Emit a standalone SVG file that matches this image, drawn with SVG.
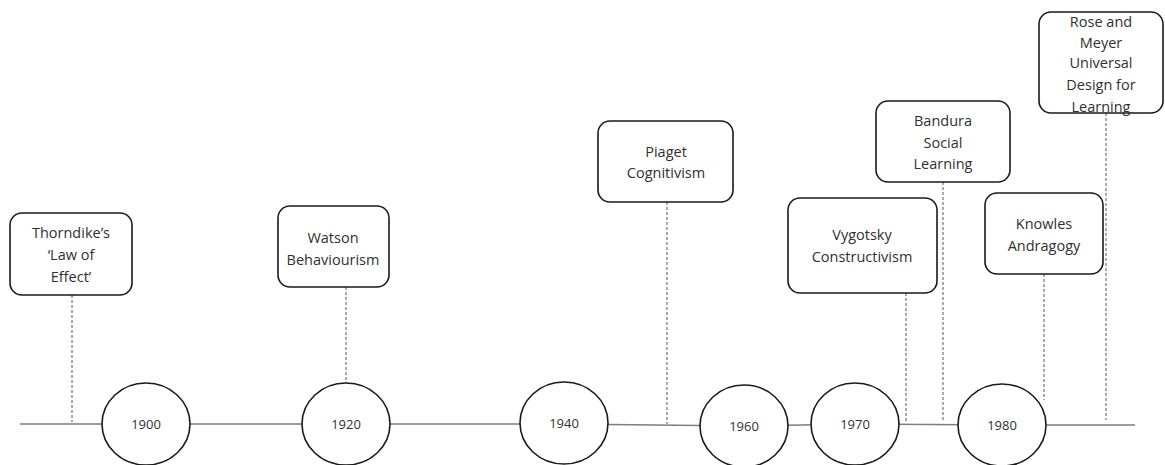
<svg xmlns="http://www.w3.org/2000/svg" width="1165" height="465" viewBox="0 0 1165 465">
  <style>
    .box { fill: #ffffff; stroke: #1a1a1a; stroke-width: 1.6; }
    .year { fill: #ffffff; stroke: #1a1a1a; stroke-width: 1.6; }
    .axis { stroke: #7f7f7f; stroke-width: 1.5; fill: none; }
    .lead { stroke: #555555; stroke-width: 1; stroke-dasharray: 3 2; fill: none; }
    .label { font-family: "Open Sans", "Liberation Sans", sans-serif; font-size: 14.5px; fill: #303030; text-anchor: middle; }
    .yr { font-family: "Open Sans", "Liberation Sans", sans-serif; font-size: 13px; fill: #303030; text-anchor: middle; }
  </style>
  <rect width="1165" height="465" fill="#ffffff"/>

  <!-- timeline axis and dashed leaders -->
  <g id="connectors">
    <polyline class="axis" points="20,424 564,424 744,426 855,424 1002,425 1135,425"/>
    <line class="lead" x1="72" y1="295" x2="72" y2="422"/>
    <line class="lead" x1="346" y1="287" x2="346" y2="383"/>
    <line class="lead" x1="667" y1="202" x2="667" y2="424"/>
    <line class="lead" x1="906" y1="293" x2="906" y2="422"/>
    <line class="lead" x1="943" y1="182" x2="943" y2="421"/>
    <line class="lead" x1="1044" y1="274" x2="1044" y2="400"/>
    <line class="lead" x1="1106" y1="113" x2="1106" y2="420"/>
  </g>

  <!-- year markers -->
  <g id="y1900"><ellipse class="year" cx="146" cy="424" rx="44" ry="41"/><text class="yr" x="146" y="429">1900</text></g>
  <g id="y1920"><ellipse class="year" cx="346" cy="424" rx="44" ry="41"/><text class="yr" x="346" y="429">1920</text></g>
  <g id="y1940"><ellipse class="year" cx="564" cy="423" rx="44" ry="41"/><text class="yr" x="564" y="428">1940</text></g>
  <g id="y1960"><ellipse class="year" cx="744" cy="426" rx="44" ry="41"/><text class="yr" x="744" y="431">1960</text></g>
  <g id="y1970"><ellipse class="year" cx="855" cy="424" rx="44" ry="41"/><text class="yr" x="855" y="429">1970</text></g>
  <g id="y1980"><ellipse class="year" cx="1002" cy="425" rx="44" ry="41"/><text class="yr" x="1002" y="430">1980</text></g>

  <!-- theory boxes -->
  <g id="thorndike">
    <rect class="box" x="10" y="213" width="122" height="82" rx="12"/>
    <text class="label" x="71" y="238">Thorndike’s</text>
    <text class="label" x="71" y="260">‘Law of</text>
    <text class="label" x="71" y="282">Effect’</text>
  </g>
  <g id="watson">
    <rect class="box" x="278" y="206" width="111" height="81" rx="12"/>
    <text class="label" x="333" y="243">Watson</text>
    <text class="label" x="333" y="265">Behaviourism</text>
  </g>
  <g id="piaget">
    <rect class="box" x="598" y="121" width="135" height="81" rx="12"/>
    <text class="label" x="666" y="157">Piaget</text>
    <text class="label" x="666" y="178">Cognitivism</text>
  </g>
  <g id="vygotsky">
    <rect class="box" x="788" y="198" width="149" height="95" rx="12"/>
    <text class="label" x="862" y="240">Vygotsky</text>
    <text class="label" x="862" y="262">Constructivism</text>
  </g>
  <g id="bandura">
    <rect class="box" x="876" y="101" width="134" height="81" rx="12"/>
    <text class="label" x="943" y="126">Bandura</text>
    <text class="label" x="943" y="148">Social</text>
    <text class="label" x="943" y="169">Learning</text>
  </g>
  <g id="knowles">
    <rect class="box" x="985" y="193" width="118" height="81" rx="12"/>
    <text class="label" x="1044" y="229">Knowles</text>
    <text class="label" x="1044" y="251">Andragogy</text>
  </g>
  <g id="rose-meyer">
    <rect class="box" x="1039" y="12" width="124" height="101" rx="12"/>
    <text class="label" x="1101" y="27">Rose and</text>
    <text class="label" x="1101" y="48">Meyer</text>
    <text class="label" x="1101" y="68">Universal</text>
    <text class="label" x="1101" y="90">Design for</text>
    <text class="label" x="1101" y="112">Learning</text>
  </g>
</svg>
